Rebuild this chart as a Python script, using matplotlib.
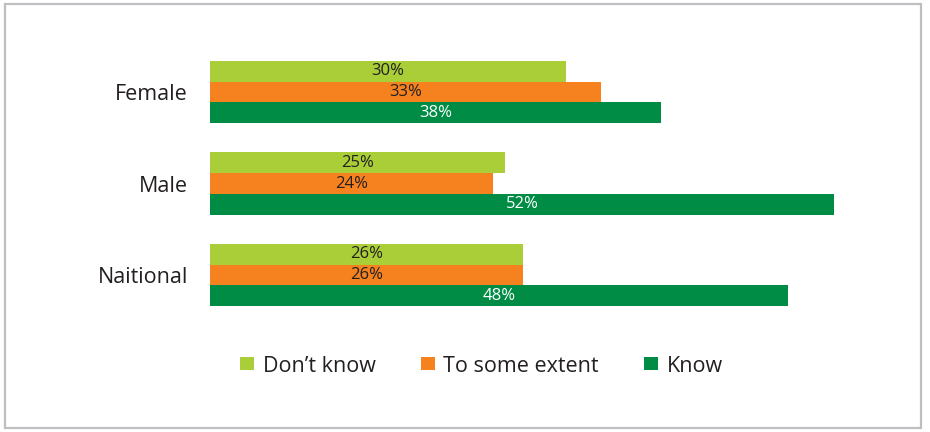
import matplotlib.pyplot as plt
from matplotlib.patches import Patch, Rectangle
import numpy as np

plt.rcParams['font.family'] = ['Open Sans', 'DejaVu Sans']

groups = ["Female", "Male", "Naitional"]
series = ["Don\u2019t know", "To some extent", "Know"]
dont_know = [29.7, 24.6, 26.1]
some_extent = [32.6, 23.6, 26.1]
know = [37.6, 52.0, 48.2]
colors = ["#a9ce38", "#f5821f", "#008c45"]
label_colors = ["#231f20", "#231f20", "white"]

W, H = 930, 432
fig = plt.figure(figsize=(W / 100, H / 100), dpi=100)

# grey frame round the whole chart
fig.patches.append(Rectangle((5 / W, 4 / H), 916 / W, 424 / H, transform=fig.transFigure,
                             fill=False, edgecolor="#bfbfc3", linewidth=1.6))

# axes placed so one group = 91.5 px and 1% = 12 px
top_px, bot_px = 46.25, 320.75
ax = fig.add_axes([210 / W, 1 - bot_px / H, 720 / W, (bot_px - top_px) / H])
ax.set_xlim(0, 60)
ax.set_ylim(2.5, -0.5)

h = 0.226
y = np.arange(len(groups))
for i, vals in enumerate([dont_know, some_extent, know]):
    pos = y + (i - 1) * h
    bars = ax.barh(pos, vals, height=h, color=colors[i], linewidth=0)
    for b, v in zip(bars, vals):
        ax.text(v / 2, b.get_y() + b.get_height() / 2, "%d%%" % round(v),
                ha="center", va="center", fontsize=12, color=label_colors[i])

ax.set_yticks(y)
ax.set_yticklabels(groups, fontsize=15.5, color="#231f20")
ax.tick_params(axis="y", length=0, pad=16)
ax.set_xticks([])
for s in ax.spines.values():
    s.set_visible(False)
ax.patch.set_alpha(0)

handles = [Patch(facecolor=c, edgecolor="none") for c in colors]
fig.legend(handles, series, loc="center left", bbox_to_anchor=(240 / W, 1 - 366 / H),
           ncol=3, frameon=False, fontsize=15.5, handlelength=0.65, handleheight=0.55,
           handletextpad=0.4, columnspacing=2.1, borderpad=0, borderaxespad=0,
           labelcolor="#231f20")

fig.savefig("out.png", dpi=100)
